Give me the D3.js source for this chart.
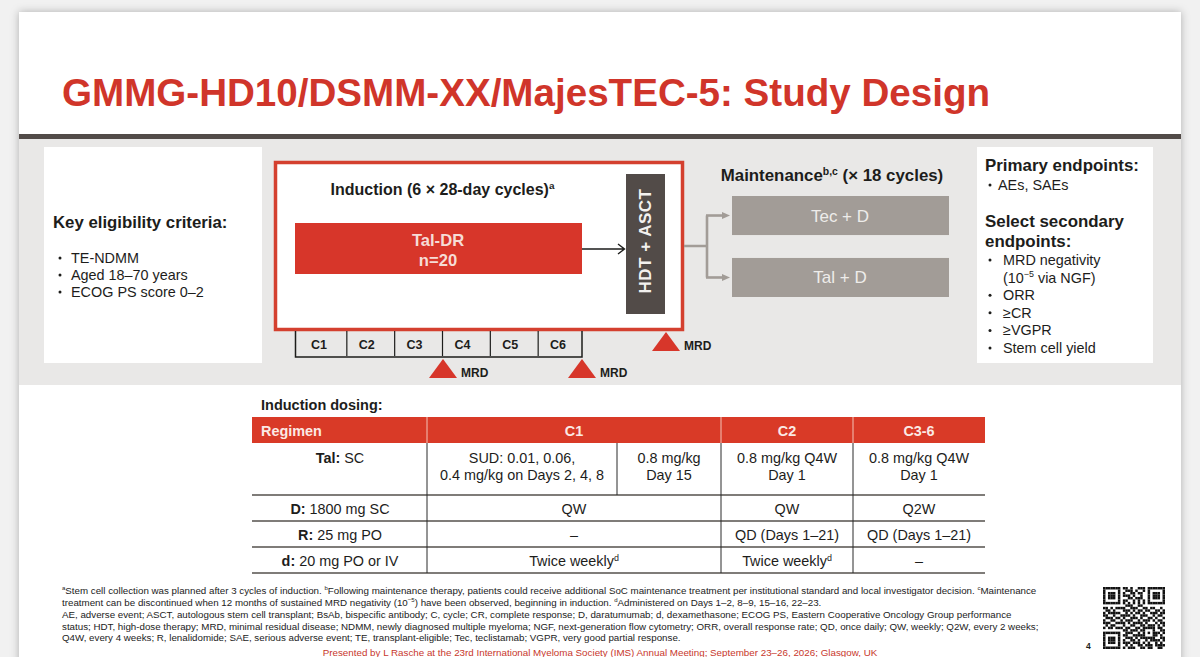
<!DOCTYPE html>
<html>
<head>
<meta charset="utf-8">
<script src="https://cdn.jsdelivr.net/npm/d3@7"></script>
<style>
  html, body { margin: 0; padding: 0; background: #f1f1f1; overflow: hidden; }
  svg { display: block; font-family: "Liberation Sans", Arial, sans-serif; }
</style>
</head>
<body>
<div id="slide"></div>
<script>
const width = 1200;
const height = 657;

const RED = "#d7362a";
const DARK = "#524b48";
const TAUPE = "#a29c97";
const INK = "#1d1d1b";

// *x* is bold, ^x^ is superscript
const title = "GMMG-HD10/DSMM-XX/MajesTEC-5: Study Design";
const cycles = ["C1", "C2", "C3", "C4", "C5", "C6"];
const eligibility = ["TE-NDMM", "Aged 18–70 years", "ECOG PS score 0–2"];
const arms = ["Tec + D", "Tal + D"];
const primaryEndpoints = ["AEs, SAEs"];
const secondaryEndpoints = ["MRD negativity", "(10^−5^ via NGF)", "ORR", "≥CR", "≥VGPR", "Stem cell yield"];
const secondaryBullets = [true, false, true, true, true, true];

const tableHeader = ["Regimen", "C1", "C2", "C3-6"];
const regimens = ["*Tal:* SC", "*D:* 1800 mg SC", "*R:* 25 mg PO", "*d:* 20 mg PO or IV"];
const c1Values = [null, "QW", "–", "Twice weekly^d^"];
const c2Values = [["0.8 mg/kg Q4W", "Day 1"], ["QW"], ["QD (Days 1–21)"], ["Twice weekly^d^"]];
const c36Values = [["0.8 mg/kg Q4W", "Day 1"], ["Q2W"], ["QD (Days 1–21)"], ["–"]];
const c1Split = [["SUD: 0.01, 0.06,", "0.4 mg/kg on Days 2, 4, 8"], ["0.8 mg/kg", "Day 15"]];

const footnotes = [
  "^a^Stem cell collection was planned after 3 cycles of induction. ^b^Following maintenance therapy, patients could receive additional SoC maintenance treatment per institutional standard and local investigator decision. ^c^Maintenance",
  "treatment can be discontinued when 12 months of sustained MRD negativity (10^−5^) have been observed, beginning in induction. ^d^Administered on Days 1–2, 8–9, 15–16, 22–23.",
  "AE, adverse event; ASCT, autologous stem cell transplant; BsAb, bispecific antibody; C, cycle; CR, complete response; D, daratumumab; d, dexamethasone; ECOG PS, Eastern Cooperative Oncology Group performance",
  "status; HDT, high-dose therapy; MRD, minimal residual disease; NDMM, newly diagnosed multiple myeloma; NGF, next-generation flow cytometry; ORR, overall response rate; QD, once daily; QW, weekly; Q2W, every 2 weeks;",
  "Q4W, every 4 weeks; R, lenalidomide; SAE, serious adverse event; TE, transplant-eligible; Tec, teclistamab; VGPR, very good partial response."
];
const footer = "Presented by L Rasche at the 23rd International Myeloma Society (IMS) Annual Meeting; September 23–26, 2026; Glasgow, UK";

const qrRows = [
  "1111111011010011101111111",
  "1000001001110100101000001",
  "1011101010011011001011101",
  "1011101011101001001011101",
  "1011101000110111001011101",
  "1000001011001010101000001",
  "1111111010101010101111111",
  "0000000001110011000000000",
  "1101011110011100110110010",
  "0110100011101011011001101",
  "1011111001010110100111011",
  "1100100111101001110010110",
  "0111011010011101001101001",
  "1001100101110010111010110",
  "1110011110101111010001011",
  "0101100010011001101110101",
  "1011011101100110111110110",
  "0000000011011101100010011",
  "1111111001110010101011101",
  "1000001011001111100011010",
  "1011101001110101111110011",
  "1011101010011010010111101",
  "1011101011101110101001010",
  "1000001001010011011101111",
  "1111111010111001101100110"
];

const svg = d3.select("#slide")
  .append("svg")
  .attr("width", width)
  .attr("height", height);

const defs = svg.append("defs");
defs.append("filter")
  .attr("id", "shadow")
  .attr("x", "-5%").attr("y", "-5%").attr("width", "110%").attr("height", "110%")
  .append("feDropShadow")
  .attr("dx", 0).attr("dy", 0)
  .attr("stdDeviation", 4)
  .attr("flood-color", "#000")
  .attr("flood-opacity", 0.28);

// turn the *bold* and ^sup^ markup into tspans
function rich(sel, str, size) {
  const parts = str.split(/(\*[^*]+\*|\^[^^]+\^)/).filter(p => p !== "");
  const rise = size * 0.36;
  let afterSup = false;
  parts.forEach(p => {
    const isBold = p[0] === "*";
    const isSup = p[0] === "^";
    const t = sel.append("tspan").text(isBold || isSup ? p.slice(1, -1) : p);
    if (isBold) t.attr("font-weight", "bold");
    if (isSup) t.attr("font-size", size * 0.62).attr("dy", -rise);
    else if (afterSup) t.attr("dy", rise);
    afterSup = isSup;
  });
}

function label(parent, str, x, y, size, opts = {}) {
  const t = parent.append("text")
    .attr("x", x)
    .attr("y", y)
    .attr("font-size", size)
    .attr("fill", opts.fill || INK)
    .attr("text-anchor", opts.anchor || "start")
    .attr("font-weight", opts.bold ? "bold" : "normal");
  rich(t, str, size);
  return t;
}

function bullet(parent, x, y) {
  parent.append("circle").attr("cx", x).attr("cy", y - 5).attr("r", 1.5).attr("fill", INK);
}

// slide background
svg.append("rect")
  .attr("x", 19).attr("y", 12)
  .attr("width", 1162).attr("height", 660)
  .attr("fill", "#fff")
  .attr("filter", "url(#shadow)");

label(svg, title, 62, 106, 38.6, { bold: true, fill: "#d0352a" });

svg.append("rect").attr("x", 19).attr("y", 139).attr("width", 1162).attr("height", 246).attr("fill", "#e9e8e7");
svg.append("rect").attr("x", 19).attr("y", 134).attr("width", 1162).attr("height", 5).attr("fill", DARK);

// eligibility panel
svg.append("rect").attr("x", 44).attr("y", 147).attr("width", 218).attr("height", 216).attr("fill", "#fff");
label(svg, "Key eligibility criteria:", 53, 228, 16.8, { bold: true });
eligibility.forEach((d, i) => {
  const y = d3.scaleLinear().domain([0, 2]).range([263, 297])(i);
  bullet(svg, 60, y);
  label(svg, d, 71, y, 14.4);
});

// induction box
svg.append("rect")
  .attr("x", 275.5).attr("y", 162.5)
  .attr("width", 407).attr("height", 167)
  .attr("fill", "#fff")
  .attr("stroke", "#d4402f")
  .attr("stroke-width", 3.5);
label(svg, "Induction (6 × 28-day cycles)^a^", 442.5, 195, 16, { bold: true, anchor: "middle" });

svg.append("rect").attr("x", 295).attr("y", 223).attr("width", 287).attr("height", 51).attr("fill", RED);
label(svg, "Tal-DR", 438, 246, 16.6, { bold: true, fill: "#f6dcd6", anchor: "middle" });
label(svg, "n=20", 438, 266, 16.6, { bold: true, fill: "#f6dcd6", anchor: "middle" });

// cycle ruler
const xCycle = d3.scaleBand().domain(cycles).range([295, 582]);
const ruler = svg.append("g");
ruler.append("path")
  .attr("d", "M295.5,331V357H582V331")
  .attr("fill", "none")
  .attr("stroke", INK)
  .attr("stroke-width", 1.5);
ruler.selectAll("line")
  .data(cycles.slice(0, -1))
  .enter()
  .append("line")
  .attr("x1", d => xCycle(d) + xCycle.bandwidth() + 4)
  .attr("x2", d => xCycle(d) + xCycle.bandwidth() + 4)
  .attr("y1", 331)
  .attr("y2", 356)
  .attr("stroke", INK)
  .attr("stroke-width", 1.2);
ruler.selectAll("text")
  .data(cycles)
  .enter()
  .append("text")
  .attr("x", d => xCycle(d) + xCycle.bandwidth() / 2)
  .attr("y", 349)
  .attr("text-anchor", "middle")
  .attr("font-size", 12.5)
  .attr("font-weight", "bold")
  .attr("fill", INK)
  .text(d => d);

// MRD markers
function mrd(x, apex) {
  svg.append("path")
    .attr("d", `M${x},${apex}L${x + 14},${apex + 19}H${x - 14}Z`)
    .attr("fill", RED);
  label(svg, "MRD", x + 18, apex + 18, 12, { bold: true });
}
mrd(443, 359);
mrd(582, 359);
mrd(666, 332);

// HDT + ASCT
svg.append("rect").attr("x", 626).attr("y", 174).attr("width", 39).attr("height", 140).attr("fill", DARK);
svg.append("text")
  .attr("transform", "translate(651,241) rotate(-90)")
  .attr("text-anchor", "middle")
  .attr("font-size", 17)
  .attr("font-weight", "bold")
  .attr("letter-spacing", 0.5)
  .attr("fill", "#f3f1ef")
  .text("HDT + ASCT");

// arrows
svg.append("path")
  .attr("d", "M582,249H624M618,244L624.5,249L618,254")
  .attr("fill", "none").attr("stroke", INK).attr("stroke-width", 1.4);

const yArm = d3.scaleBand().domain(arms).range([196, 297]).paddingInner(0.37);
const armMid = a => yArm(a) + yArm.bandwidth() / 2;
svg.append("path")
  .attr("d", `M684,246H707M707,${armMid(arms[0])}V${armMid(arms[1])}`)
  .attr("fill", "none").attr("stroke", TAUPE).attr("stroke-width", 2.6);
arms.forEach(a => {
  const y = armMid(a);
  svg.append("path")
    .attr("d", `M706,${y}H724`)
    .attr("stroke", TAUPE).attr("stroke-width", 2.6);
  svg.append("path")
    .attr("d", `M730,${y}L722,${y - 3.5}V${y + 3.5}Z`)
    .attr("fill", TAUPE);
});

label(svg, "Maintenance^b,c^ (× 18 cycles)", 832, 181, 16.85, { bold: true, anchor: "middle" });
svg.selectAll("rect.arm")
  .data(arms)
  .enter()
  .append("rect")
  .attr("class", "arm")
  .attr("x", 732)
  .attr("y", d => yArm(d))
  .attr("width", 217)
  .attr("height", yArm.bandwidth())
  .attr("fill", TAUPE);
svg.selectAll("text.arm")
  .data(arms)
  .enter()
  .append("text")
  .attr("class", "arm")
  .attr("x", 840)
  .attr("y", d => armMid(d) + 6)
  .attr("text-anchor", "middle")
  .attr("font-size", 17)
  .attr("fill", "#eeecea")
  .text(d => d);

// endpoints panel
svg.append("rect").attr("x", 977).attr("y", 147).attr("width", 176).attr("height", 216).attr("fill", "#fff");
label(svg, "Primary endpoints:", 985, 171, 16.9, { bold: true });
primaryEndpoints.forEach(d => {
  bullet(svg, 990, 190);
  label(svg, d, 998, 190, 14.4);
});
label(svg, "Select secondary", 985, 227, 16.9, { bold: true });
label(svg, "endpoints:", 985, 247, 16.9, { bold: true });
const ySecondary = d3.scalePoint().domain(d3.range(secondaryEndpoints.length)).range([265, 353]);
secondaryEndpoints.forEach((d, i) => {
  if (secondaryBullets[i]) bullet(svg, 990, ySecondary(i));
  label(svg, d, 1003, ySecondary(i), 14.4);
});

// dosing table
label(svg, "Induction dosing:", 261, 410, 14.5, { bold: true });
const colEdges = [252, 427, 721, 853, 985];
const c1Mid = 617;
const rowEdges = [443, 495, 521, 547, 573];
const table = svg.append("g");

table.append("rect").attr("x", colEdges[0]).attr("y", 417).attr("width", colEdges[4] - colEdges[0]).attr("height", 26).attr("fill", "#d93a27");
tableHeader.forEach((d, i) => {
  if (i === 0) label(table, d, 261, 436, 14.4, { bold: true, fill: "#fbe9e4" });
  else label(table, d, (colEdges[i] + colEdges[i + 1]) / 2, 436, 14.4, { bold: true, fill: "#fbe9e4", anchor: "middle" });
  if (i > 0) table.append("line").attr("x1", colEdges[i]).attr("x2", colEdges[i]).attr("y1", 417).attr("y2", 443).attr("stroke", "#f3c3b8").attr("stroke-width", 1);
});

rowEdges.slice(1).forEach(y => {
  table.append("line").attr("x1", colEdges[0]).attr("x2", colEdges[4]).attr("y1", y).attr("y2", y).attr("stroke", "#55504d").attr("stroke-width", 1.3);
});
colEdges.slice(1, 4).forEach(x => {
  table.append("line").attr("x1", x).attr("x2", x).attr("y1", 443).attr("y2", 573).attr("stroke", "#2a2a2a").attr("stroke-width", 1);
});
table.append("line").attr("x1", c1Mid).attr("x2", c1Mid).attr("y1", 443).attr("y2", 495).attr("stroke", "#2a2a2a").attr("stroke-width", 1);

function cell(lines, x, baseline) {
  lines.forEach((l, k) => label(table, l, x, baseline + k * 17, 14.4, { anchor: "middle" }));
}
const rowBase = [463, 514, 540, 566];
regimens.forEach((d, r) => {
  label(table, d, 340, rowBase[r], 14.4, { anchor: "middle" });
  if (c1Values[r]) cell([c1Values[r]], (colEdges[1] + colEdges[2]) / 2, rowBase[r]);
  cell(c2Values[r], (colEdges[2] + colEdges[3]) / 2, rowBase[r]);
  cell(c36Values[r], (colEdges[3] + colEdges[4]) / 2, rowBase[r]);
});
cell(c1Split[0], (colEdges[1] + c1Mid) / 2, rowBase[0]);
cell(c1Split[1], (c1Mid + colEdges[2]) / 2, rowBase[0]);

// footnotes
const footBase = [594, 606, 618, 630, 641];
footnotes.forEach((d, i) => label(svg, d, 62, footBase[i], 9.75, { fill: "#222" }));
label(svg, footer, 600, 656, 9.8, { fill: "#c8372c", anchor: "middle" });
label(svg, "4", 1086, 649, 8.5, { bold: true });

// qr code
const qrSize = 62;
const xQr = d3.scaleBand().domain(d3.range(25)).range([1103, 1103 + qrSize]);
const yQr = d3.scaleBand().domain(d3.range(25)).range([587, 587 + qrSize]);
const qrCells = qrRows.flatMap((row, r) => row.split("").map((v, c) => ({ r, c, v })));
svg.append("g")
  .selectAll("rect")
  .data(qrCells.filter(d => d.v === "1"))
  .enter()
  .append("rect")
  .attr("x", d => xQr(d.c))
  .attr("y", d => yQr(d.r))
  .attr("width", xQr.bandwidth())
  .attr("height", yQr.bandwidth())
  .attr("fill", "#111");
</script>
</body>
</html>
